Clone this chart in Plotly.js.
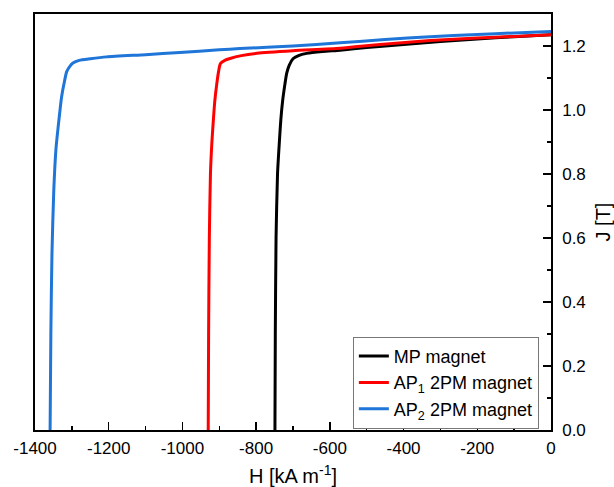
<!DOCTYPE html>
<html>
<head>
<meta charset="utf-8">
<script src="https://cdn.plot.ly/plotly-3.0.1.min.js"></script>
<style>html,body{margin:0;padding:0;background:#fff;}#chart{width:614px;height:487px;}</style>
</head>
<body>
<div id="chart"></div>
<script>
// MP magnet
const mpH = [-749,-748,-746,-742,-737,-733,-728,-722,-717,-710,-700,-685,-663,-620,-572,-500,-400,-300,-200,-100,0];
const mpJ = [0,0.3,0.6,0.8,0.9,0.97,1.03,1.08,1.115,1.14,1.16,1.17,1.177,1.183,1.187,1.195,1.205,1.214,1.222,1.229,1.235];
// AP1 2PM magnet
const ap1H = [-930,-929,-927,-924,-920,-916,-912,-907,-902,-897,-885,-871,-840,-798,-700,-572,-464,-328,-200,-100,0];
const ap1J = [0,0.3,0.6,0.8,0.9,0.97,1.03,1.08,1.12,1.145,1.155,1.161,1.17,1.177,1.185,1.193,1.205,1.217,1.225,1.23,1.235];
// AP2 2PM magnet
const ap2H = [-1359,-1357,-1354,-1349,-1343,-1335,-1328,-1320,-1314,-1305,-1297,-1280,-1250,-1206,-1100,-1007,-900,-844,-700,-572,-450,-328,-200,-100,0];
const ap2J = [0,0.3,0.55,0.75,0.88,0.97,1.04,1.09,1.12,1.137,1.147,1.155,1.16,1.166,1.173,1.18,1.188,1.192,1.2,1.21,1.22,1.229,1.236,1.241,1.245];

// tick labels
const xTickVals = [-1400,-1200,-1000,-800,-600,-400,-200,0];
const xTickText = ["-1400","-1200","-1000","-800","-600","-400","-200","0"];
const yTickVals = [0,0.2,0.4,0.6,0.8,1.0,1.2];
const yTickText = ["0.0","0.2","0.4","0.6","0.8","1.0","1.2"];

const names = ["MP magnet", "AP<sub>1</sub> 2PM magnet", "AP<sub>2</sub> 2PM magnet"];
const colors = ["#000000", "#ff0000", "#1f76d8"];
const xs = [mpH, ap1H, ap2H];
const ys = [mpJ, ap1J, ap2J];

const data = xs.map((x, i) => ({
  x: x, y: ys[i], name: names[i], type: "scatter", mode: "lines",
  line: {color: colors[i], width: 3, shape: "spline", smoothing: 0.6}
}));

const font = "Liberation Sans, Arial, sans-serif";
const layout = {
  width: 614, height: 487,
  margin: {l: 35, r: 63, t: 14, b: 57},
  paper_bgcolor: "#fff", plot_bgcolor: "#fff",
  font: {family: font, color: "#000", size: 17},
  showlegend: true,
  legend: {
    x: 0.616, y: 0.224, xanchor: "left", yanchor: "top",
    bordercolor: "#777", borderwidth: 1, bgcolor: "#fff",
    font: {family: font, size: 18, color: "#000"},
    tracegroupgap: 0
  },
  xaxis: {
    range: [-1400, 0], tickmode: "array", tickvals: xTickVals, ticktext: xTickText,
    ticks: "inside", ticklen: 8, tickwidth: 1.5, tickcolor: "#000",
    minor: {dtick: 100, ticks: "inside", ticklen: 4, tickwidth: 1.5, tickcolor: "#000"},
    showline: true, linecolor: "#000", linewidth: 1.8, mirror: true,
    showgrid: false, zeroline: false,
    tickfont: {family: font, size: 17},
    ticklabelstandoff: 2,
    automargin: false,
    title: {text: "H [kA m<sup>-1</sup>]", font: {family: font, size: 20}, standoff: 15}
  },
  yaxis: {
    side: "right",
    range: [0, 1.3], tickmode: "array", tickvals: yTickVals, ticktext: yTickText,
    ticks: "inside", ticklen: 8, tickwidth: 1.5, tickcolor: "#000",
    minor: {dtick: 0.1, ticks: "inside", ticklen: 4, tickwidth: 1.5, tickcolor: "#000"},
    showline: true, linecolor: "#000", linewidth: 1.8, mirror: true,
    showgrid: false, zeroline: false,
    tickfont: {family: font, size: 17},
    ticklabelstandoff: 6,
    automargin: false,
    title: {text: "J [T]", font: {family: font, size: 20}, standoff: 14}
  }
};

Plotly.newPlot("chart", data, layout, {displayModeBar: false, staticPlot: true});
</script>
</body>
</html>
